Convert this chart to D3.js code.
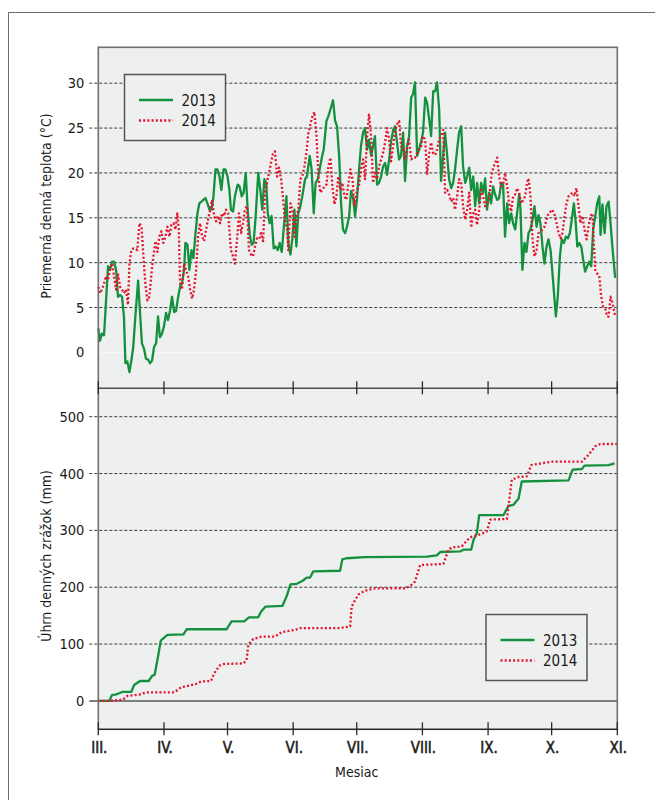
<!DOCTYPE html>
<html>
<head>
<meta charset="utf-8">
<script src="https://cdn.jsdelivr.net/npm/d3@7/dist/d3.min.js"></script>
<style>
  body { margin: 0; background: #fff; }
  text { font-family: "Liberation Sans Narrow", "Arial Narrow", "DejaVu Sans Condensed", sans-serif; fill: #1a1a1a; }
</style>
</head>
<body>
<div id="graphic"></div>
<script>
// day index counted from 1 March, months are III. .. XI.
var monthStarts = [0, 31, 61, 92, 122, 153, 184, 214, 245];
var monthLabels = ["III.", "IV.", "V.", "VI.", "VII.", "VIII.", "IX.", "X.", "XI."];
var tempTicks = [0, 5, 10, 15, 20, 25, 30];
var rainTicks = [0, 100, 200, 300, 400, 500];
var years = ["2013", "2014"];

// priemerna denna teplota, [den, °C]
var temp2013 = [[0,2.7],[0.8,1.3],[1.7,2.1],[2.7,1.9],[3.6,5.5],[4.6,9.6],[5.5,9.2],[6.5,10.1],[7.4,10.1],[8.4,9.2],[9.3,6.2],[10.3,6.4],[11.2,6.2],[12.1,4.0],[12.8,-1.2],[13.7,-1.0],[14.7,-2.2],[15.6,-0.9],[16.5,0.6],[17.5,4.0],[18.8,8.0],[19.7,4.4],[20.6,1.0],[21.6,0.4],[22.5,-0.7],[23.5,-0.8],[24.4,-1.2],[25.4,-0.9],[26.3,0.6],[27.3,1.0],[28.2,4.0],[29.1,1.7],[30.1,2.1],[31.0,2.9],[32.0,4.4],[32.9,3.6],[33.9,4.7],[34.8,6.2],[35.8,4.5],[36.7,4.6],[37.7,6.2],[38.6,7.3],[39.5,7.7],[40.5,9.2],[41.1,12.2],[42.1,12.0],[43.0,9.2],[44.0,11.4],[44.9,10.5],[45.9,13.3],[46.8,15.5],[47.7,16.6],[48.7,16.8],[49.6,17.0],[50.6,17.2],[51.5,16.6],[52.5,15.9],[53.4,15.9],[54.3,17.2],[55.3,20.4],[56.2,20.4],[57.2,19.6],[58.1,18.1],[59.1,20.4],[60.0,20.4],[61.0,19.6],[61.9,18.1],
  [62.6,15.9],[63.6,15.7],[64.5,17.4],[65.8,18.7],[66.7,18.5],[67.7,17.4],[68.6,17.8],[69.6,20.0],[70.5,15.9],[71.5,13.1],[72.4,12.0],[73.3,12.2],[74.3,15.2],[75.5,20.0],[76.5,18.1],[77.4,15.9],[78.4,19.3],[79.3,18.9],[80.0,15.5],[80.9,14.4],[81.8,15.2],[82.8,11.6],[83.7,11.8],[84.7,11.4],[85.6,12.2],[86.6,11.2],[87.5,13.7],[88.8,17.4],[89.7,12.2],[90.7,10.9],[91.6,12.7],[92.6,15.9],[93.5,11.8],[94.4,15.5],[95.4,16.3],[96.3,17.4],[97.6,19.3],[98.5,19.6],[99.8,21.9],[100.7,20.4],[101.7,15.5],[102.6,18.9],[103.6,19.3],[104.5,20.4],[105.5,21.7],[106.4,22.6],[107.7,25.8],[108.6,26.3],[109.6,27.1],[110.8,28.1],[111.8,25.8],[112.7,25.2],[113.7,21.9],[114.6,16.6],[115.5,13.7],[116.5,13.3],[117.4,14.0],[118.4,15.2],[119.3,18.0],[120.3,17.2],[121.2,15.2],
  [122.1,17.0],[123.1,20.4],[124.0,23.0],[125.0,24.5],[125.9,25.0],[126.9,22.6],[127.8,23.7],[128.8,21.9],[129.7,23.0],[130.6,24.1],[131.6,18.7],[132.5,18.9],[133.5,19.6],[134.4,20.7],[135.4,21.1],[136.3,19.8],[137.3,21.5],[138.2,23.5],[139.2,24.8],[140.1,25.2],[141.0,23.4],[142.0,21.5],[142.9,21.9],[143.9,24.5],[144.8,19.1],[145.8,23.0],[146.7,24.1],[147.7,28.4],[148.6,28.8],[149.5,30.1],[150.5,21.9],[151.4,22.6],[152.4,23.5],[153.3,24.5],[154.3,28.4],[155.2,27.8],[156.2,26.0],[157.1,24.1],[158.1,29.1],[159.0,29.1],[159.9,30.1],[160.9,27.1],[161.8,19.1],[162.8,21.9],[163.7,24.5],[164.7,21.9],[165.6,19.3],[166.6,18.3],[167.5,18.9],[168.4,20.4],[169.4,22.6],[170.3,24.5],[171.3,25.2],[172.2,20.7],[173.2,18.9],[174.1,19.6],[175.1,20.6],[176.0,18.1],[177.0,19.6],[177.9,16.3],[178.8,18.9],[179.8,16.6],[180.7,18.9],[181.7,17.8],
  [182.6,19.4],[183.5,15.9],[184.5,17.8],[185.4,16.6],[186.4,18.5],[187.3,17.6],[188.3,17.0],[189.2,17.2],[190.2,18.9],[191.1,18.7],[192.0,12.9],[193.0,16.6],[193.9,14.4],[194.9,15.5],[195.8,14.4],[196.8,13.7],[197.7,15.5],[198.7,17.6],[199.3,15.9],[200.2,9.2],[201.2,12.2],[202.1,11.2],[203.1,13.3],[204.0,13.7],[205.0,14.8],[205.9,16.3],[206.9,14.0],[207.8,15.3],[208.7,14.4],[209.7,11.8],[210.6,9.9],[211.6,11.8],[212.5,12.6],[213.5,11.4],[214.4,8.8],[215.4,5.8],[216.0,4.0],[216.9,6.2],[217.9,10.7],[218.8,12.6],[219.8,12.2],[220.7,12.9],[221.7,12.7],[222.6,13.3],[223.5,14.8],[224.5,16.6],[225.4,14.4],[226.1,11.8],[227.0,12.2],[228.0,11.8],[228.9,10.3],[229.8,9.0],[230.8,9.6],[231.7,10.1],[232.7,9.6],[233.6,13.7],[234.6,15.2],[235.5,16.6],[236.5,17.4],[237.1,13.1],[238.0,16.5],[239.0,13.3],[239.9,16.3],[240.9,16.8],[241.8,14.4],[242.8,11.4],[244.0,8.3]];

var temp2014 = [[0,7.3],[0.8,6.6],[1.7,7.0],[2.7,7.7],[3.6,8.5],[4.6,8.1],[5.5,9.2],[6.5,9.9],[7.4,8.5],[8.4,7.0],[9.3,8.8],[10.3,7.3],[11.2,7.0],[12.1,6.6],[13.1,7.0],[14.0,5.3],[14.7,9.9],[15.6,11.4],[16.6,11.6],[17.5,11.6],[18.4,11.4],[19.4,14.4],[20.4,14.0],[21.3,10.7],[22.2,7.7],[23.2,5.8],[24.1,6.2],[25.1,8.8],[26.0,10.7],[27.0,12.4],[27.9,11.2],[28.8,12.9],[29.8,13.5],[30.7,12.2],[31.7,12.9],[32.6,14.0],[33.6,12.9],[34.5,14.2],[35.5,14.4],[36.4,13.7],[37.3,15.5],[38.0,13.7],[38.6,7.7],[39.5,7.0],[40.5,9.9],[41.4,9.2],[42.4,8.5],[43.3,7.0],[44.3,6.0],[45.2,7.0],[46.2,9.2],[47.1,12.9],[48.0,14.4],[49.0,12.9],[49.9,12.4],[50.9,13.7],[51.8,14.8],[52.8,15.9],[53.7,17.0],[54.7,15.2],[55.6,14.6],[56.5,15.2],[57.5,14.4],[58.4,15.5],[59.4,15.2],[60.3,15.9],[61.3,15.5],
  [62.6,11.4],[63.6,10.7],[64.5,9.9],[65.5,12.6],[66.4,15.5],[67.4,13.3],[68.3,14.4],[69.2,15.9],[70.2,16.3],[71.1,11.4],[72.1,10.9],[73.0,10.7],[74.0,11.8],[74.9,12.7],[75.9,12.6],[76.8,13.3],[77.8,12.4],[78.7,17.8],[79.6,18.9],[80.6,20.0],[81.5,21.1],[82.5,22.2],[83.4,22.4],[84.4,19.6],[85.3,20.6],[86.3,19.3],[87.2,17.2],[88.1,14.8],[89.1,13.7],[89.7,11.4],[90.7,16.6],[91.6,15.9],[92.6,12.9],[93.5,15.2],[94.4,15.9],[95.4,19.3],[96.3,19.6],[97.3,20.7],[98.2,22.2],[99.2,24.5],[100.1,25.4],[101.1,26.3],[102.0,26.8],[103.0,24.1],[103.9,19.6],[104.8,17.8],[105.8,18.1],[106.7,18.5],[107.7,18.7],[108.6,20.7],[109.6,21.7],[110.5,18.5],[111.5,16.5],[112.4,17.4],[113.3,19.6],[114.3,18.1],[115.2,18.9],[116.2,17.4],[117.1,17.0],[118.1,18.9],[119.0,20.4],[120.0,19.3],[120.9,16.3],
  [122.1,18.1],[123.1,18.7],[124.0,20.4],[125.0,21.5],[125.9,19.3],[126.9,24.1],[127.8,26.5],[128.8,24.1],[129.7,18.9],[130.6,20.0],[131.6,19.3],[132.5,20.7],[133.5,21.5],[134.4,22.2],[135.4,23.4],[136.3,25.0],[137.3,23.7],[138.2,21.3],[139.2,23.0],[140.1,24.8],[141.0,25.4],[142.0,25.8],[142.9,23.0],[143.9,22.8],[144.8,21.5],[145.8,23.0],[146.7,23.7],[147.7,21.5],[148.6,21.7],[149.5,21.7],[150.5,22.2],[151.4,22.6],[152.4,23.0],[153.3,24.1],[154.3,23.7],[155.2,19.8],[156.2,22.2],[157.1,23.4],[158.1,22.2],[159.0,22.0],[159.9,22.6],[160.9,23.7],[161.8,24.1],[162.8,24.8],[163.7,17.8],[164.7,18.1],[165.6,17.6],[166.6,16.8],[167.5,17.2],[168.4,15.9],[169.4,17.4],[170.3,19.3],[171.3,18.9],[172.2,16.3],[173.2,14.8],[174.1,15.9],[175.1,17.8],[176.0,13.9],[177.0,15.5],[177.9,15.9],[178.8,14.2],[179.8,15.9],[180.7,18.1],[181.7,17.4],
  [182.6,16.3],[183.5,16.6],[184.5,17.2],[185.4,19.3],[186.4,20.6],[187.3,21.1],[188.3,21.7],[189.2,19.6],[190.2,18.5],[191.1,18.7],[192.0,20.0],[193.0,18.5],[193.9,16.6],[194.9,15.7],[195.8,17.4],[196.8,17.6],[197.7,18.3],[198.7,17.8],[199.6,16.6],[200.6,17.0],[201.5,17.4],[202.4,18.9],[203.1,19.4],[204.0,17.4],[205.0,12.6],[205.9,10.7],[206.9,11.4],[207.8,13.3],[208.7,13.5],[209.7,13.7],[210.6,14.0],[211.6,14.8],[212.5,15.5],[213.5,15.7],[214.4,15.9],[215.4,15.3],[216.3,14.4],[217.3,13.3],[218.2,12.7],[219.1,13.3],[220.1,15.2],[221.0,16.6],[222.0,17.4],[222.9,17.6],[223.9,17.8],[224.8,17.4],[225.7,18.3],[226.7,16.3],[227.6,14.4],[228.6,15.2],[229.5,13.7],[230.5,12.6],[231.4,14.0],[232.4,15.2],[233.3,15.5],[233.9,12.2],[234.6,9.2],[235.5,8.8],[236.5,8.5],[237.4,6.2],[238.3,5.1],[239.3,4.9],[240.2,4.0],[240.9,4.0],[241.8,6.2],[242.8,5.5],[244.0,4.0]];

// uhrn dennych zrazok, [den, mm]
var rain2013 = [[0,0],[5.2,0],[6.5,10.6],[8,11],[9.9,13.5],[11.5,16],[15.6,16],[16.9,28],[18.1,31],[19.7,35],[23.8,35],[25.4,44],[26.6,46],[28.2,78],[29.5,106],[31,111],[32.6,116],[40.2,117],[41.7,126],[60.6,126],[61.4,131],[62.9,140],[68.9,140],[71.1,147],[75.5,147],[76.8,157],[79,166],[86.9,167],[88.9,184],[90.7,205],[93.7,206],[96.3,211],[98.4,217],[100,217],[101.5,228],[114.1,229],[115.2,249],[117.1,251],[125.9,253],[155.1,254],[159.8,256],[161.4,262],[170.8,263],[172.4,266],[176,266],[177.1,283],[178.7,295],[179.8,327],[191.3,327],[193.6,343],[196,345],[198.4,356],[199.9,386],[222,388],[223.9,407],[228.3,408],[229.5,414],[240.9,415],[243.7,418]];
var rain2014 = [[0,0],[5.2,0],[11.5,2],[13.9,9],[19.4,11],[22.5,15],[35.9,15],[39.1,24],[43,27],[46.2,30],[48.5,34],[53.2,35],[54.8,49],[57.2,62],[59.5,65],[68.5,66],[70,72],[70.8,99],[73.2,109],[77.1,113],[83.4,113],[86.6,121],[92.9,125],[95.2,128],[113.3,128],[118.9,131],[119.6,166],[121.2,177],[122.8,187],[125.9,194],[130.6,198],[144.8,198],[147.2,202],[149.5,210],[151.9,239],[162.9,241],[165.3,266],[166.9,270],[171.6,272],[175.5,288],[179.5,292],[183.4,298],[185,319],[192.9,320],[194,354],[195.2,389],[198.4,394],[202.3,395],[204.4,415],[214.1,421],[228.3,421],[231.4,433],[234.6,448],[236.9,452],[244.8,452]];

var green = "#14913f", red = "#e5122c", dots = "2,2.2";
var plotLeft = 98.3, plotRight = 617.3, plotTop = 47.3, plotMid = 388.3, plotBottom = 729.3;

var svg = d3.select("#graphic").append("svg").attr("width", 655).attr("height", 800);

// outer frame
svg.append("rect").attr("x", 8.5).attr("y", 12.5).attr("width", 700).attr("height", 850)
  .attr("fill", "none").attr("stroke", "#6e6e6e").attr("stroke-width", 1);

var x = d3.scaleLinear().domain([0, 245]).range([plotLeft, plotRight]);
var yTemp = d3.scaleLinear().domain([-4, 34]).range([plotMid, plotTop]);
var yRain = d3.scaleLinear().domain([-50, 550]).range([plotBottom, plotMid]);

svg.append("rect").attr("x", plotLeft).attr("y", plotTop)
  .attr("width", plotRight - plotLeft).attr("height", plotBottom - plotTop)
  .attr("fill", "#eef0ef");

function grid(scale, ticks) {
  svg.append("g").selectAll("line").data(ticks.filter(function(d) { return d !== 0; })).enter().append("line")
    .attr("x1", plotLeft - 9).attr("x2", plotRight)
    .attr("y1", function(d) { return scale(d); }).attr("y2", function(d) { return scale(d); })
    .attr("stroke", "#3a3a3a").attr("stroke-width", 1).attr("stroke-dasharray", "3,2");
  svg.append("g").selectAll("text").data(ticks).enter().append("text")
    .attr("x", plotLeft - 14).attr("y", function(d) { return scale(d) + 5; })
    .attr("text-anchor", "end").attr("font-size", 14.5).text(function(d) { return d; });
}
grid(yTemp, tempTicks);
grid(yRain, rainTicks);

// zero lines
svg.append("line").attr("x1", plotLeft).attr("x2", plotRight).attr("y1", yTemp(0)).attr("y2", yTemp(0))
  .attr("stroke", "#f7f8f7").attr("stroke-width", 1);
svg.append("line").attr("x1", plotLeft - 9).attr("x2", plotRight).attr("y1", yRain(0)).attr("y2", yRain(0))
  .attr("stroke", "#7d7d7d").attr("stroke-width", 2);

// series
function draw(data, scale, color, dash) {
  var line = d3.line().x(function(d) { return x(d[0]); }).y(function(d) { return scale(d[1]); });
  svg.append("path").datum(data).attr("d", line).attr("fill", "none")
    .attr("stroke", color).attr("stroke-width", 2.3).attr("stroke-linejoin", "round")
    .attr("stroke-dasharray", dash);
}
draw(temp2013, yTemp, green, null);
draw(temp2014, yTemp, red, dots);
draw(rain2013, yRain, green, null);
draw(rain2014, yRain, red, dots);

// panel borders
svg.append("rect").attr("x", plotLeft).attr("y", plotTop)
  .attr("width", plotRight - plotLeft).attr("height", plotBottom - plotTop)
  .attr("fill", "none").attr("stroke", "#707070").attr("stroke-width", 1.6);
svg.append("line").attr("x1", plotLeft).attr("x2", plotRight).attr("y1", plotMid).attr("y2", plotMid)
  .attr("stroke", "#505050").attr("stroke-width", 1.6);

// month ticks
[plotMid, plotBottom].forEach(function(yy) {
  svg.append("g").selectAll("line").data(monthStarts).enter().append("line")
    .attr("x1", function(d) { return x(d); }).attr("x2", function(d) { return x(d); })
    .attr("y1", yy - 7).attr("y2", yy + 6)
    .attr("stroke", "#2a2a2a").attr("stroke-width", 1.3);
});
svg.append("line").attr("x1", plotLeft).attr("x2", plotRight).attr("y1", plotBottom).attr("y2", plotBottom)
  .attr("stroke", "#2a2a2a").attr("stroke-width", 1.3);

svg.append("g").selectAll("text").data(monthStarts).enter().append("text")
  .attr("x", function(d) { return x(d) + 1; }).attr("y", plotBottom + 24)
  .attr("text-anchor", "middle").attr("font-size", 15)
  .attr("stroke", "#1a1a1a").attr("stroke-width", 0.5)
  .text(function(d, i) { return monthLabels[i]; });

svg.append("text").attr("x", x(122)).attr("y", 777).attr("text-anchor", "middle")
  .attr("font-size", 14).text("Mesiac");
svg.append("text").attr("transform", "translate(51,206) rotate(-90)").attr("text-anchor", "middle")
  .attr("font-size", 14).text("Priemerná denná teplota (°C)");
svg.append("text").attr("transform", "translate(51,556) rotate(-90)").attr("text-anchor", "middle")
  .attr("font-size", 14).text("Úhrn denných zrážok (mm)");

// legends
function legend(lx, ly) {
  var g = svg.append("g").attr("transform", "translate(" + lx + "," + ly + ")");
  g.append("rect").attr("width", 101).attr("height", 66).attr("fill", "#eef0ef")
    .attr("stroke", "#555").attr("stroke-width", 1.5);
  years.forEach(function(yr, i) {
    g.append("line").attr("x1", 14.5).attr("x2", 48.5).attr("y1", 25.5 + i * 20.5).attr("y2", 25.5 + i * 20.5)
      .attr("stroke", i ? red : green).attr("stroke-width", 2.3).attr("stroke-dasharray", i ? dots : null);
    g.append("text").attr("x", 57).attr("y", 31 + i * 20.5).attr("font-size", 15).text(yr);
  });
}
legend(124.5, 74.5);
legend(486, 614.5);
</script>
</body>
</html>
